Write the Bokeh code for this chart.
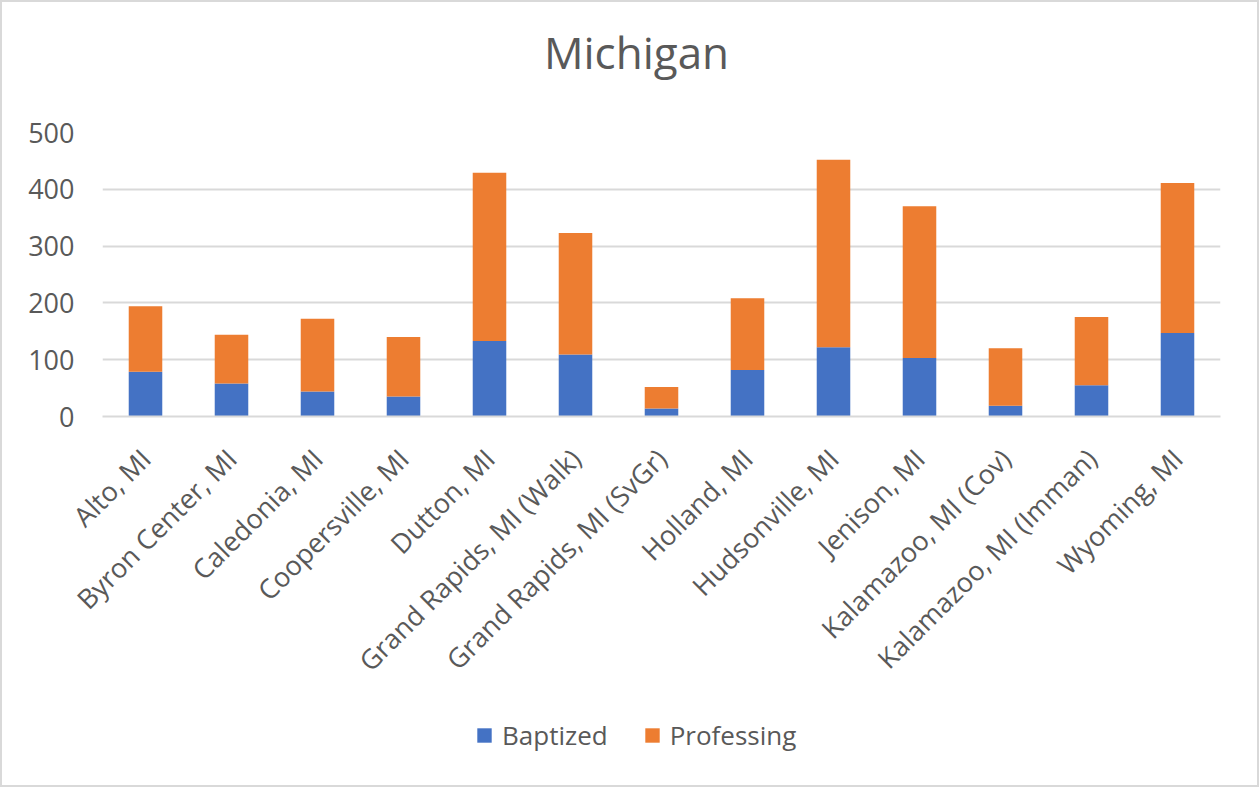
from bokeh.plotting import figure
from bokeh.models import Range1d, FactorRange, Legend, LegendItem, Label, InlineStyleSheet
from bokeh.layouts import column
from bokeh.embed import file_html
from bokeh.resources import INLINE
import math

categories = ["Alto, MI", "Byron Center, MI", "Caledonia, MI", "Coopersville, MI",
              "Dutton, MI", "Grand Rapids, MI (Walk)", "Grand Rapids, MI (SvGr)",
              "Holland, MI", "Hudsonville, MI", "Jenison, MI", "Kalamazoo, MI (Cov)",
              "Kalamazoo, MI (Imman)", "Wyoming, MI"]
baptized = [79, 58, 44, 35, 133, 109, 14, 82, 122, 103, 19, 55, 147]
professing = [115, 86, 128, 105, 296, 214, 38, 126, 330, 267, 101, 120, 264]
series = ["Baptized", "Professing"]
colors = ["#4472C4", "#ED7D31"]
title_text = "Michigan"

FONT = "Open Sans"
TXT = "#595959"
W = 1259
LEFT, RIGHT = 102, 39


def strip(height):
    # frames in a column are aligned with the main chart's frame
    f = figure(width=W, height=height, output_backend="svg", toolbar_location=None,
               x_range=Range1d(LEFT, W - RIGHT), y_range=Range1d(0, height),
               x_axis_type=None, y_axis_type=None, title=None)
    f.min_border = 0
    f.min_border_left = LEFT
    f.min_border_right = RIGHT
    f.min_border_top = 0
    f.min_border_bottom = 0
    f.outline_line_color = None
    f.xgrid.grid_line_color = None
    f.ygrid.grid_line_color = None
    f.border_fill_color = "white"
    f.background_fill_color = "white"
    return f


# --- title strip ---
pt = strip(100)
pt.add_layout(Label(x=636, y=49, text=title_text, text_align="center",
                    text_baseline="alphabetic", text_font=FONT,
                    text_font_size="44px", text_color=TXT))

# --- main chart ---
p = figure(width=W, height=610, output_backend="svg", toolbar_location=None,
           x_range=FactorRange(factors=categories, range_padding=0),
           y_range=Range1d(0, 500), title=None)
p.min_border_left = LEFT
p.min_border_right = RIGHT
p.min_border_top = 32
p.min_border_bottom = 294
p.outline_line_color = None
p.background_fill_color = "white"
p.border_fill_color = "white"

data = {"cat": categories, "Baptized": baptized, "Professing": professing}
p.vbar_stack(series, x="cat", width=0.39, color=colors, source=data, line_color=None)

p.xgrid.grid_line_color = None
p.ygrid.grid_line_color = "#d9d9d9"
p.ygrid.grid_line_width = 2
p.yaxis.ticker = [0, 100, 200, 300, 400, 500]
p.yaxis.axis_line_color = None
p.yaxis.major_tick_line_color = None
p.yaxis.minor_tick_line_color = None
p.yaxis.major_tick_out = 0
p.yaxis.major_tick_in = 0
p.yaxis.major_label_standoff = 28
p.yaxis.major_label_text_font = FONT
p.yaxis.major_label_text_font_size = "27px"
p.yaxis.major_label_text_color = TXT

p.xaxis.axis_line_color = "#d9d9d9"
p.xaxis.axis_line_width = 2
p.xaxis.major_tick_line_color = None
p.xaxis.major_tick_out = 0
p.xaxis.major_tick_in = 0
p.xaxis.major_label_standoff = 37
p.xaxis.major_label_orientation = math.pi / 4
p.xaxis.major_label_text_font = FONT
p.xaxis.major_label_text_font_size = "27px"
p.xaxis.major_label_text_color = TXT

# --- legend strip ---
pl = strip(77)
leg_renderers = [pl.vbar(x=[0], top=[0], width=0, fill_color=c, line_color=None)
                 for c in colors]
legend = Legend(items=[LegendItem(label=s, renderers=[r]) for s, r in zip(series, leg_renderers)],
                orientation="horizontal", location=(475 - LEFT, 34),
                label_text_font=FONT, label_text_font_size="26px", label_text_color=TXT,
                glyph_width=18, glyph_height=18, label_standoff=9, spacing=35,
                padding=0, margin=0, border_line_color=None, background_fill_alpha=0)
pl.add_layout(legend, "center")

frame_css = InlineStyleSheet(css=":host::after { content: ''; position: absolute; "
                                 "left: 0; top: 0; right: 0; bottom: 0; "
                                 "border: 2px solid #d9d9d9; pointer-events: none; z-index: 100; }")
layout = column(pt, p, pl, spacing=0, stylesheets=[frame_css])
open("out.html", "w").write(file_html(layout, INLINE))
